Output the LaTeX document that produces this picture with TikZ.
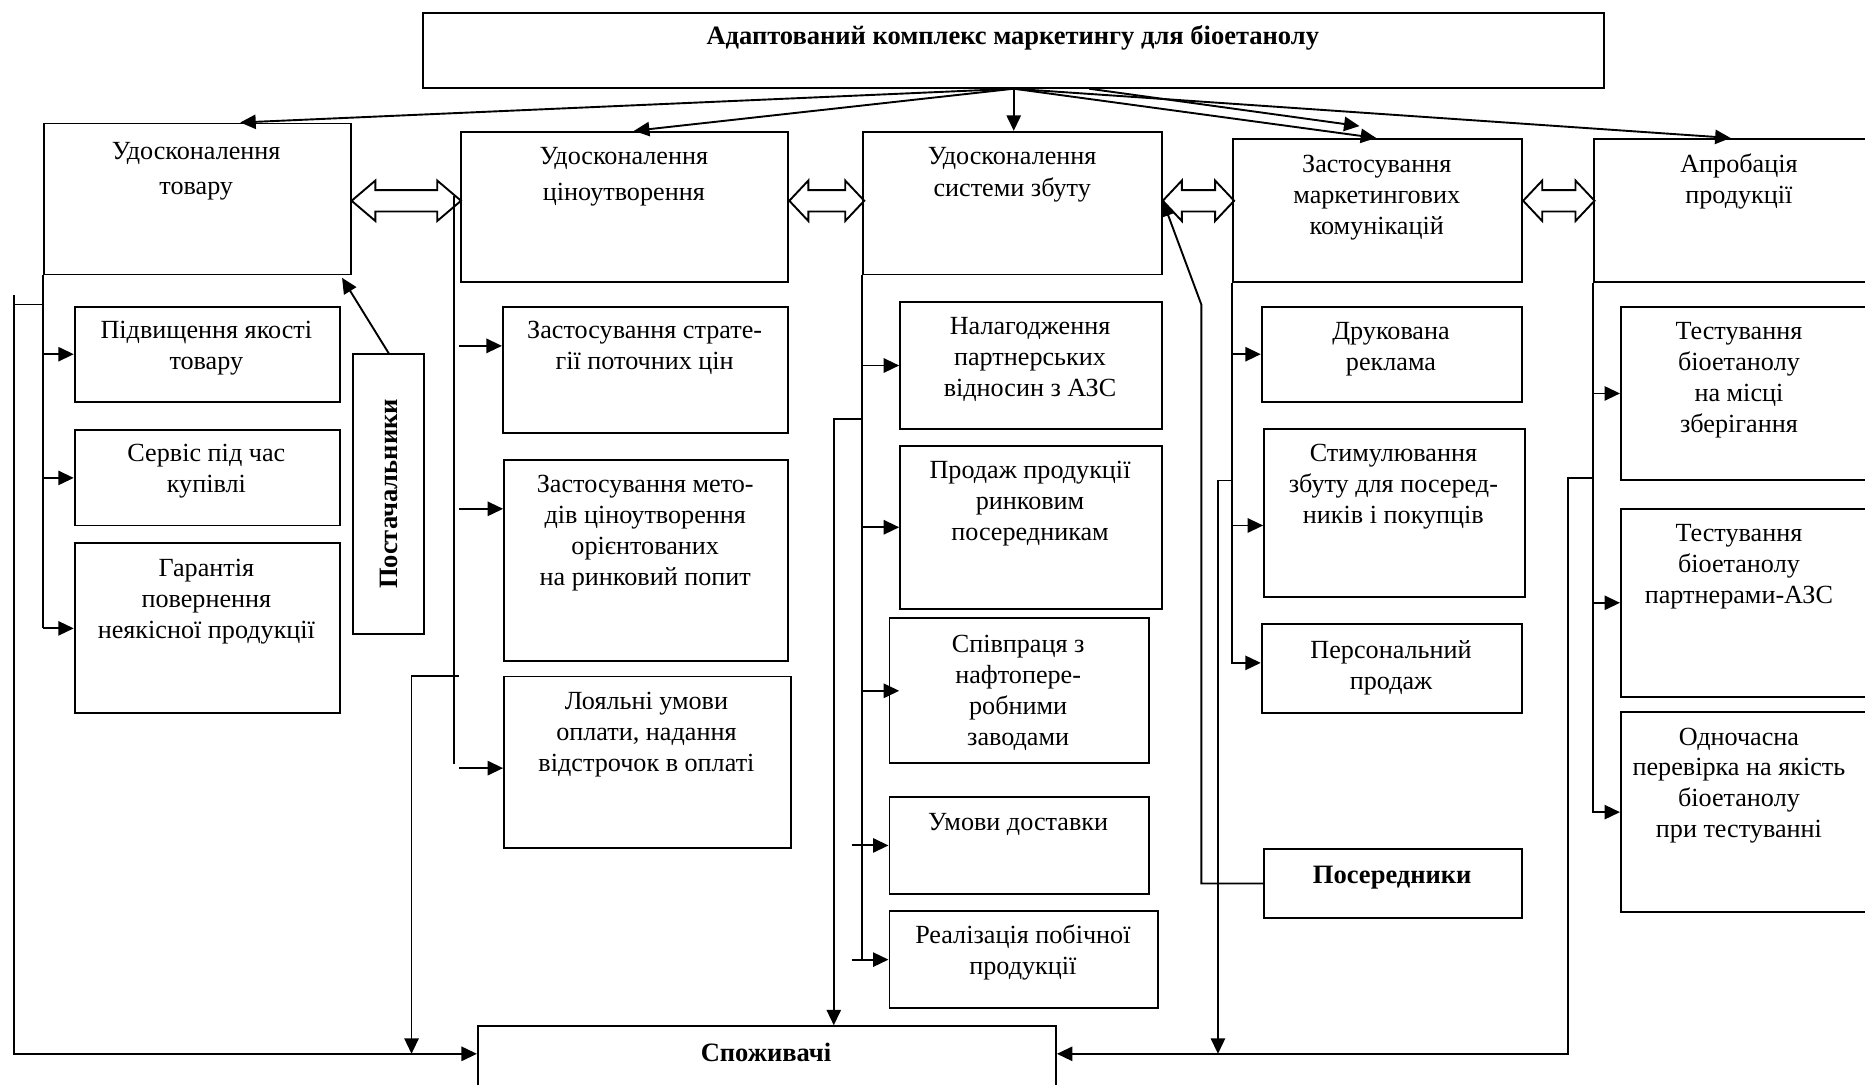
\documentclass[tikz,border=0pt]{standalone}
\usepackage{fontspec}
\setmainfont{Liberation Serif}
\usetikzlibrary{arrows.meta,calc}
\newcommand\mybox[5]{\node[box, minimum width={#4-#2}, minimum height={#5-#3}] (#1) at (#2,#3) {};}
\newcommand\mytext[5][txt]{\node[#1] (#2) at (#3,{#4-12}) {\strut #5};}
\tikzset{pics/dblarrow/.style args={#1/#2}{code={\draw[dbl] (0,0) -- (#2,-17) -- (#2,-9) -- (#1-#2,-9) -- (#1-#2,-17) -- (#1,0) -- (#1-#2,17) -- (#1-#2,9) -- (#2,9) -- (#2,17) -- cycle;}}}
\begin{document}
\begin{tikzpicture}[x=1pt,y=-1pt,
  box/.style={draw, line width=1.6pt, inner sep=0pt, anchor=north west},
  txt/.style={anchor=north, align=center, inner sep=0pt, font=\fontsize{22}{26}\selectfont},
  btxt/.style={anchor=north, align=center, inner sep=0pt, font=\fontsize{22.3}{26}\selectfont\bfseries},
  ln/.style={line width=1.6pt},
  arr/.style={line width=1.6pt, -{Triangle[length=13pt,width=12pt]}},
  dbl/.style={line width=1.6pt, line join=miter}]
\fill[white] (0,0) rectangle (1568,912);
\useasboundingbox (0,0) rectangle (1568,912);

% header
\mybox{H}{355}{10}{1348}{73}
\mytext[btxt]{Ht}{851.5}{31}{Адаптований комплекс маркетингу для біоетанолу}

% level 1
\mybox{B1}{36}{103}{294}{230}
\mytext{B1t}{165}{128}{Удосконалення\\[3pt]товару}
\mybox{B2}{387}{110}{662}{236}
\mytext{B2t}{524.5}{132}{Удосконалення\\[4pt]ціноутворення}
\mybox{B3}{725}{110}{976}{230}
\mytext{B3t}{851}{132}{Удосконалення\\[1pt]системи збуту}
\mybox{B4}{1036}{116}{1279}{236}
\mytext{B4t}{1157.5}{139}{Застосування\\маркетингових\\комунікацій}
\mybox{B5}{1339}{116}{1600}{236}
\mytext{B5t}{1462}{139}{Апробація\\продукції}

% arrows from header
\draw[arr] (H.south) -- ([xshift=166pt]B1.north west);
\draw[arr] (H.south) -- ([xshift=146pt]B2.north west);
\draw[arr] (H.south) -- (H.south |- B3.north);
\draw[arr] ([xshift=63.5pt]H.south) -- ([xshift=107pt,yshift=10pt]B4.north west);
\draw[arr] (H.south) -- ([xshift=121pt]B4.north west);
\draw[arr] (H.south) -- ([xshift=116pt]B5.north west);

% double arrows
\pic at ([yshift=-1.5pt]B1.east) {dblarrow=92/20};
\pic at ([yshift=5pt]B2.east) {dblarrow=63/16};
\pic at ([yshift=2pt]B3.east) {dblarrow=60/16};
\pic at ([yshift=8pt]B4.east) {dblarrow=60/16};

% column 1
\mybox{C1a}{62}{257}{285}{337}
\mytext{C1at}{173.5}{278}{Підвищення якості\\товару}
\mybox{C1b}{62}{361}{285}{441}
\mytext{C1bt}{173.5}{382}{Сервіс під час\\купівлі}
\mybox{C1c}{62}{456}{285}{599}
\mytext{C1ct}{173.5}{478}{Гарантія\\повернення\\неякісної продукції}
\draw[ln] (B1.south west) -- (B1.south west |- C1c.west);
\draw[arr] (B1.south west |- C1a.west) -- (C1a.west);
\draw[arr] (B1.south west |- C1b.west) -- (C1b.west);
\draw[arr] (B1.south west |- C1c.west) -- (C1c.west);

% consumers
\mybox{S}{401}{862}{887}{950}
\mytext[btxt]{St}{644}{886}{Споживачі}
\coordinate (Sin) at ([yshift=-24pt]S.north west);
\coordinate (Sout) at ([yshift=-24pt]S.north east);

% far left line
\coordinate (FL) at (12,248);
\coordinate (FLs) at (12,256);
\draw[ln] (FLs) -- (FLs -| B1.west);
\draw[arr] (FL) -- (FL |- Sin) -- (Sin);

% suppliers
\mybox{P}{296}{297}{356}{532}
\node[font=\fontsize{22.3}{26}\selectfont\bfseries, rotate=90, inner sep=0pt] (Pt) at (P.center) {Постачальники};
\draw[arr] (P.north) -- ([xshift=-8pt,yshift=-2pt]B1.south east);

% column 2
\mybox{C2a}{422}{257}{662}{363}
\mytext{C2at}{542}{278}{Застосування страте-\\гії поточних цін}
\mybox{C2b}{423}{386}{662}{555}
\mytext{C2bt}{542.5}{408}{Застосування мето-\\дів ціноутворення\\орієнтованих\\на ринковий попит}
\mybox{C2c}{423}{568}{664}{712}
\mytext{C2ct}{543.5}{590}{Лояльні умови\\оплати, надання\\відстрочок в оплаті}
\coordinate (br2) at (382,165);
\draw[ln] (br2) -- (br2 |- 0,642);
\coordinate (t2a) at ([yshift=20pt]C2a.west);
\coordinate (t2b) at ([yshift=43.5pt]C2b.west);
\coordinate (t2c) at ([yshift=-5pt]C2c.west);
\draw[arr] ($(t2a -| br2)+(4,0)$) -- (t2a);
\draw[arr] ($(t2b -| br2)+(4,0)$) -- (t2b);
\draw[arr] ($(t2c -| br2)+(4,0)$) -- (t2c);
\coordinate (L2) at (346,568);
\draw[arr] ($(L2 -| br2)+(4,0)$) -- (L2) -- (L2 |- Sin);

% column 3
\mybox{C3a}{756}{253}{976}{360}
\mytext{C3at}{866}{275}{Налагодження\\партнерських\\відносин з АЗС}
\mybox{C3b}{756}{374}{976}{511}
\mytext{C3bt}{866}{396}{Продаж продукції\\ринковим\\посередникам}
\mybox{C3c}{747}{519}{965}{641}
\mytext{C3ct}{856}{542}{Співпраця з\\нафтопере-\\робними\\заводами}
\mybox{C3d}{747}{669}{965}{751}
\mytext{C3dt}{856}{692}{Умови доставки}
\mybox{C3e}{747}{765}{973}{847}
\mytext{C3et}{860}{787}{Реалізація побічної\\продукції}
\draw[ln] (B3.south west) -- (B3.south west |- C3e.west);
\draw[arr] (B3.south west |- C3a.west) -- (C3a.west);
\draw[arr] (B3.south west |- C3b.west) -- (C3b.west);
\draw[arr] (B3.south west |- C3c.west) -- ([xshift=9pt]C3c.west);
\draw[arr] ([xshift=-31pt]C3d.west) -- (C3d.west);
\draw[arr] ([xshift=-31pt]C3e.west) -- (C3e.west);
\coordinate (L3) at (701,352);
\draw[arr] (L3 -| B3.west) -- (L3) -- (L3 |- S.north);

% column 4
\mybox{C4a}{1060}{257}{1279}{337}
\mytext{C4at}{1169.5}{279}{Друкована\\реклама}
\mybox{C4b}{1062}{360}{1281}{501}
\mytext{C4bt}{1171.5}{382}{Стимулювання\\збуту для посеред-\\ників і покупців}
\mybox{C4c}{1060}{524}{1279}{599}
\mytext{C4ct}{1169.5}{547}{Персональний\\продаж}
\coordinate (t4c) at ([yshift=5pt]C4c.west);
\draw[arr] (B4.south west) -- (B4.south west |- t4c) -- (t4c);
\draw[arr] (B4.south west |- C4a.west) -- (C4a.west);
\coordinate (t4b) at ([yshift=-10.5pt]C4b.west);
\draw[arr] (B4.south west |- t4b) -- (t4b);
\coordinate (L4) at (1024,404);
\draw[arr] (L4 -| B4.west) -- (L4) -- (L4 |- Sout);

% intermediaries
\mybox{PS}{1062}{713}{1279}{771}
\mytext[btxt]{PSt}{1170.5}{736}{Посередники}
\coordinate (L5) at (1010,256);
\draw[arr] (PS.west) -- (PS.west -| L5) -- (L5) -- ([yshift=2pt]B3.east);

% column 5
\mybox{C5a}{1362}{257}{1600}{403}
\mytext{C5at}{1462}{279}{Тестування\\біоетанолу\\на місці\\зберігання}
\mybox{C5b}{1362}{427}{1600}{585}
\mytext{C5bt}{1462}{449}{Тестування\\біоетанолу\\партнерами-АЗС}
\mybox{C5c}{1362}{598}{1600}{766}
\mytext{C5ct}{1462}{620}{Одночасна\\перевірка на якість\\біоетанолу\\при тестуванні}
\draw[arr] (B5.south west) -- (B5.south west |- C5c.west) -- (C5c.west);
\draw[arr] (B5.south west |- C5a.west) -- (C5a.west);
\draw[arr] (B5.south west |- C5b.west) -- (C5b.west);
\coordinate (L6) at (1318,402);
\draw[arr] (L6 -| B5.west) -- (L6) -- (L6 |- Sout) -- (Sout);
\end{tikzpicture}
\end{document}
